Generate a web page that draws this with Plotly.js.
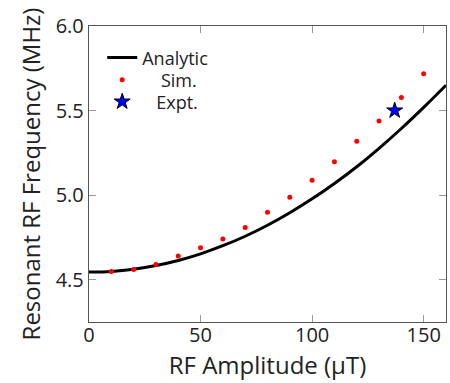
<!DOCTYPE html>
<html>
<head>
<meta charset="utf-8">
<script src="https://cdn.plot.ly/plotly-3.0.1.min.js"></script>
<style>html,body{margin:0;padding:0;background:#fff;}#chart{width:450px;height:383px;}</style>
</head>
<body>
<div id="chart"></div>
<script>
// Analytic curve
const analyticX = [0, 10, 20, 30, 40, 50, 60, 70, 80, 90, 100, 110, 120, 130, 140, 150, 160];
const analyticY = [4.545, 4.549, 4.562, 4.584, 4.614, 4.653, 4.701, 4.757, 4.822, 4.896, 4.978, 5.069, 5.168, 5.277, 5.394, 5.519, 5.650];
// Simulation points
const simX = [10, 20, 30, 40, 50, 60, 70, 80, 90, 100, 110, 120, 130, 140, 150];
const simY = [4.549, 4.561, 4.590, 4.640, 4.689, 4.740, 4.809, 4.899, 4.988, 5.088, 5.198, 5.318, 5.438, 5.577, 5.717];
// Experiment
const exptX = [137];
const exptY = [5.5];

const xTicks = [0, 50, 100, 150];
const yTicks = [4.5, 5.0, 5.5, 6.0];
const yTickText = ['4.5', '5.0', '5.5', '6.0'];

const FONT = '"Open Sans", sans-serif';

const traces = [
  {x: analyticX, y: analyticY, mode: 'lines', name: 'Analytic', legend: 'legend',
   line: {color: '#000', width: 3, shape: 'spline'}},
  {x: simX, y: simY, mode: 'markers', name: '\u00a0\u00a0\u00a0\u00a0Sim.', legend: 'legend2',
   marker: {color: '#ff0000', size: 5, symbol: 'circle'}},
  {x: exptX, y: exptY, mode: 'markers', name: '\u00a0\u00a0\u00a0Expt.', legend: 'legend3',
   marker: {color: '#0000ff', size: 12, symbol: 'star', line: {color: '#000', width: 1}}}
];

const axisCommon = {
  showgrid: false, zeroline: false,
  showline: true, linecolor: '#555', linewidth: 1.2, mirror: 'ticks',
  ticks: 'inside', ticklen: 7, tickwidth: 1, tickcolor: '#999',
  tickfont: {family: FONT, size: 20, color: '#222'}
};

function legendAt(y) {
  return {x: 0.037, y: y, xanchor: 'left', yanchor: 'top',
          bgcolor: 'rgba(0,0,0,0)', borderwidth: 0,
          font: {family: FONT, size: 18, color: '#222'},
          itemwidth: 30, tracegroupgap: 0};
}

const layout = {
  width: 450, height: 383,
  margin: {l: 89, r: 4, t: 26, b: 61},
  paper_bgcolor: '#fff', plot_bgcolor: '#fff',
  font: {family: FONT, size: 20, color: '#222'},
  showlegend: true,
  legend: legendAt(0.955),
  legend2: legendAt(0.880),
  legend3: legendAt(0.806),
  xaxis: Object.assign({}, axisCommon, {
    range: [0, 160], tickvals: xTicks, ticktext: xTicks.map(String),
    ticklabelstandoff: -5,
    title: {text: 'RF Amplitude (\u03bcT)', font: {family: FONT, size: 24, color: '#222'}, standoff: 6}
  }),
  yaxis: Object.assign({}, axisCommon, {
    range: [4.25, 6.0], tickvals: yTicks, ticktext: yTickText,
    title: {text: 'Resonant RF Frequency (MHz)', font: {family: FONT, size: 24, color: '#222'}, standoff: 8}
  })
};

Plotly.newPlot('chart', traces, layout, {displayModeBar: false, staticPlot: true});
</script>
</body>
</html>
